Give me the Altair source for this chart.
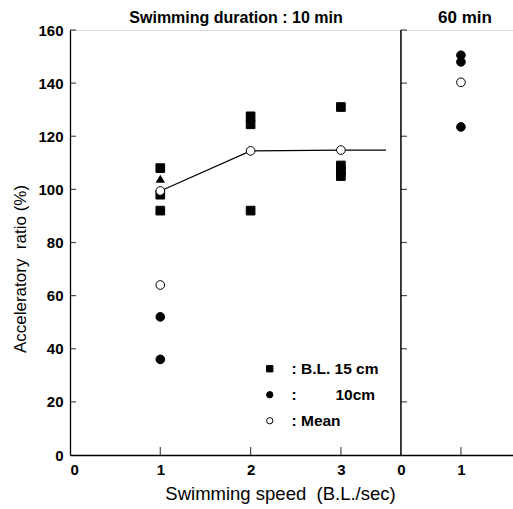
import altair as alt
import pandas as pd

# ---------------- data ----------------
# B.L. 15 cm (filled squares), 10-min panel
sq_speed = [1, 1, 1, 2, 2, 2, 3, 3, 3, 3]
sq_ratio = [108, 98, 92, 127.5, 124.5, 92, 131, 109, 107, 105]
# B.L. 10 cm (filled circles)
c10_speed_10min = [1, 1]
c10_ratio_10min = [52, 36]
c10_speed_60min = [1, 1, 1]
c10_ratio_60min = [150.5, 148, 123.5]
# Mean (open circles)
mean_speed_10min = [1, 1, 2, 3]
mean_ratio_10min = [99.4, 64, 114.5, 114.8]
mean_speed_60min = [1]
mean_ratio_60min = [140.3]
# triangle
tri_speed = [1]
tri_ratio = [104]
# mean line (10 min)
line_speed = [1, 2, 3, 3.5]
line_ratio = [99.4, 114.5, 114.8, 114.8]

y_ticks = [20, 40, 60, 80, 100, 120, 140, 160]
x_ticks_10 = [1, 2, 3]
x_ticks_60 = [1]

# layout of the two panels on one shared x scale
DIV = 3.665      # position of the 60-min panel's zero
RSCALE = 0.6645  # 60-min panel unit relative to 10-min unit
XMAX = 4.906

W, H = 443, 425

rows = []
for s, r in zip(sq_speed, sq_ratio):
    rows.append(dict(panel="10", group="15 cm", speed=s, ratio=r))
for s, r in zip(c10_speed_10min, c10_ratio_10min):
    rows.append(dict(panel="10", group="10 cm", speed=s, ratio=r))
for s, r in zip(c10_speed_60min, c10_ratio_60min):
    rows.append(dict(panel="60", group="10 cm", speed=s, ratio=r))
for s, r in zip(mean_speed_10min, mean_ratio_10min):
    rows.append(dict(panel="10", group="Mean", speed=s, ratio=r))
for s, r in zip(mean_speed_60min, mean_ratio_60min):
    rows.append(dict(panel="60", group="Mean", speed=s, ratio=r))
pts = pd.DataFrame(rows)

tri = pd.DataFrame(dict(panel="10", speed=tri_speed, ratio=tri_ratio))
line = pd.DataFrame(dict(panel="10", speed=line_speed, ratio=line_ratio))
xt = pd.DataFrame(dict(panel=["10"] * len(x_ticks_10) + ["60"] * len(x_ticks_60),
                       speed=x_ticks_10 + x_ticks_60))
yt = pd.DataFrame(dict(ratio=y_ticks))
div = pd.DataFrame(dict(speed=[0, 0], panel=["60", "60"], ratio=[0, 160]))

xcalc = f"datum.panel == '60' ? {DIV} + datum.speed * {RSCALE} : datum.speed"
xscale = alt.Scale(domain=[0, XMAX], nice=False, zero=False)
yscale = alt.Scale(domain=[0, 160], nice=False)

NB = "\u00a0"
x_axis = alt.Axis(
    values=[0, 1, 2, 3, DIV, DIV + RSCALE],
    labelExpr=f"datum.value < {DIV - 0.1} ? format(datum.value, 'd') : format(round((datum.value - {DIV}) / {RSCALE}), 'd')",
    ticks=False, grid=False, labelPadding=7, labelFontSize=15, labelFontWeight="bold",
    title=f"Swimming speed {NB}(B.L./sec)", titleFontSize=18.5, titleFontWeight="normal",
    titleX=210, titleY=38, titleAlign="center", titleBaseline="middle",
    domainColor="black", domainWidth=1.3, labelColor="black", titleColor="black",
)
y_axis = alt.Axis(
    values=[0] + y_ticks, ticks=False, grid=False, labelPadding=7,
    labelFontSize=15, labelFontWeight="bold",
    title=f"Acceleratory {NB}ratio (%)", titleFontSize=17, titleFontWeight="normal",
    titleX=-50, titleY=H / 2 + 26, titleAngle=270, titleAlign="center", titleBaseline="middle",
    domainColor="black", domainWidth=1.3, labelColor="black", titleColor="black",
)

X = alt.X("xpos:Q", scale=xscale, axis=x_axis)
Y = alt.Y("ratio:Q", scale=yscale, axis=y_axis)

divider = alt.Chart(div).transform_calculate(xpos=xcalc).mark_line(
    color="black", strokeWidth=1.5
).encode(x=X, y=Y)

ytick_left = alt.Chart(yt).mark_tick(orient="horizontal", size=6, thickness=1.2,
                                     color="black", xOffset=3).encode(
    x=alt.value(0), y=Y)
ytick_div = alt.Chart(yt).transform_calculate(panel="'60'", speed="0").transform_calculate(
    xpos=xcalc).mark_tick(orient="horizontal", size=6, thickness=1.2, color="black",
                          xOffset=3).encode(x=X, y=Y)
xtick = alt.Chart(xt).transform_calculate(xpos=xcalc).mark_tick(
    orient="vertical", size=8, thickness=1.2, color="black", yOffset=-4
).encode(x=X, y=alt.value(H))

mean_line = alt.Chart(line).transform_calculate(xpos=xcalc).mark_line(
    color="black", strokeWidth=1.2
).encode(x=X, y=Y)

legend_expr = ("datum.label == '15 cm' ? ': B.L. 15 cm' : datum.label == '10 cm' ? "
               "':\u00a0\u00a0\u00a0\u00a0\u00a0\u00a0\u00a0\u00a0\u00a010cm' : ': Mean'")
leg = alt.Legend(title=None, labelExpr=legend_expr)
groups = ["15 cm", "10 cm", "Mean"]

points = alt.Chart(pts).transform_calculate(xpos=xcalc).mark_point(
    filled=True, strokeWidth=1, opacity=1, size=75
).encode(
    x=X, y=Y,
    shape=alt.Shape("group:N", scale=alt.Scale(domain=groups,
                                               range=["square", "circle", "circle"]),
                    legend=leg),
    fill=alt.Fill("group:N", scale=alt.Scale(domain=groups,
                                             range=["black", "black", "white"]),
                  legend=leg),
    stroke=alt.Stroke("group:N", scale=alt.Scale(domain=groups,
                                                 range=["black", "black", "black"]),
                      legend=leg),
)

triangle = alt.Chart(tri).transform_calculate(xpos=xcalc).mark_point(
    shape="triangle-up", filled=True, color="black", size=90, opacity=1
).encode(x=X, y=Y)

headers = pd.DataFrame(dict(label=["Swimming duration : 10 min", "60 min"]))
head1 = alt.Chart(headers.iloc[[0]]).mark_text(
    fontSize=16, font="Liberation Sans", color="black", align="center", baseline="middle",
    fontWeight="bold"
).encode(text="label:N", x=alt.value(166), y=alt.value(-12))
head2 = alt.Chart(headers.iloc[[1]]).mark_text(
    fontSize=17, font="Liberation Sans", color="black", align="center", baseline="middle",
    fontWeight="bold"
).encode(text="label:N", x=alt.value(395), y=alt.value(-12))

chart = alt.layer(
    divider, ytick_left, ytick_div, xtick, mean_line, points, triangle, head1, head2
).properties(
    width=W, height=H,
    autosize=alt.AutoSizeParams(type="none"),
    padding={"left": 70, "top": 30, "right": 0, "bottom": 54},
).configure_view(stroke=None).configure(
    font="Liberation Sans"
).configure_legend(
    orient="none", legendX=192, legendY=331, symbolSize=40,
    symbolStrokeWidth=1,
    labelFontSize=15.5, labelFontWeight="bold", labelColor="black", rowPadding=9,
    labelOffset=14,
)

chart.save("out.html", embed_options={"renderer": "svg", "actions": False})
